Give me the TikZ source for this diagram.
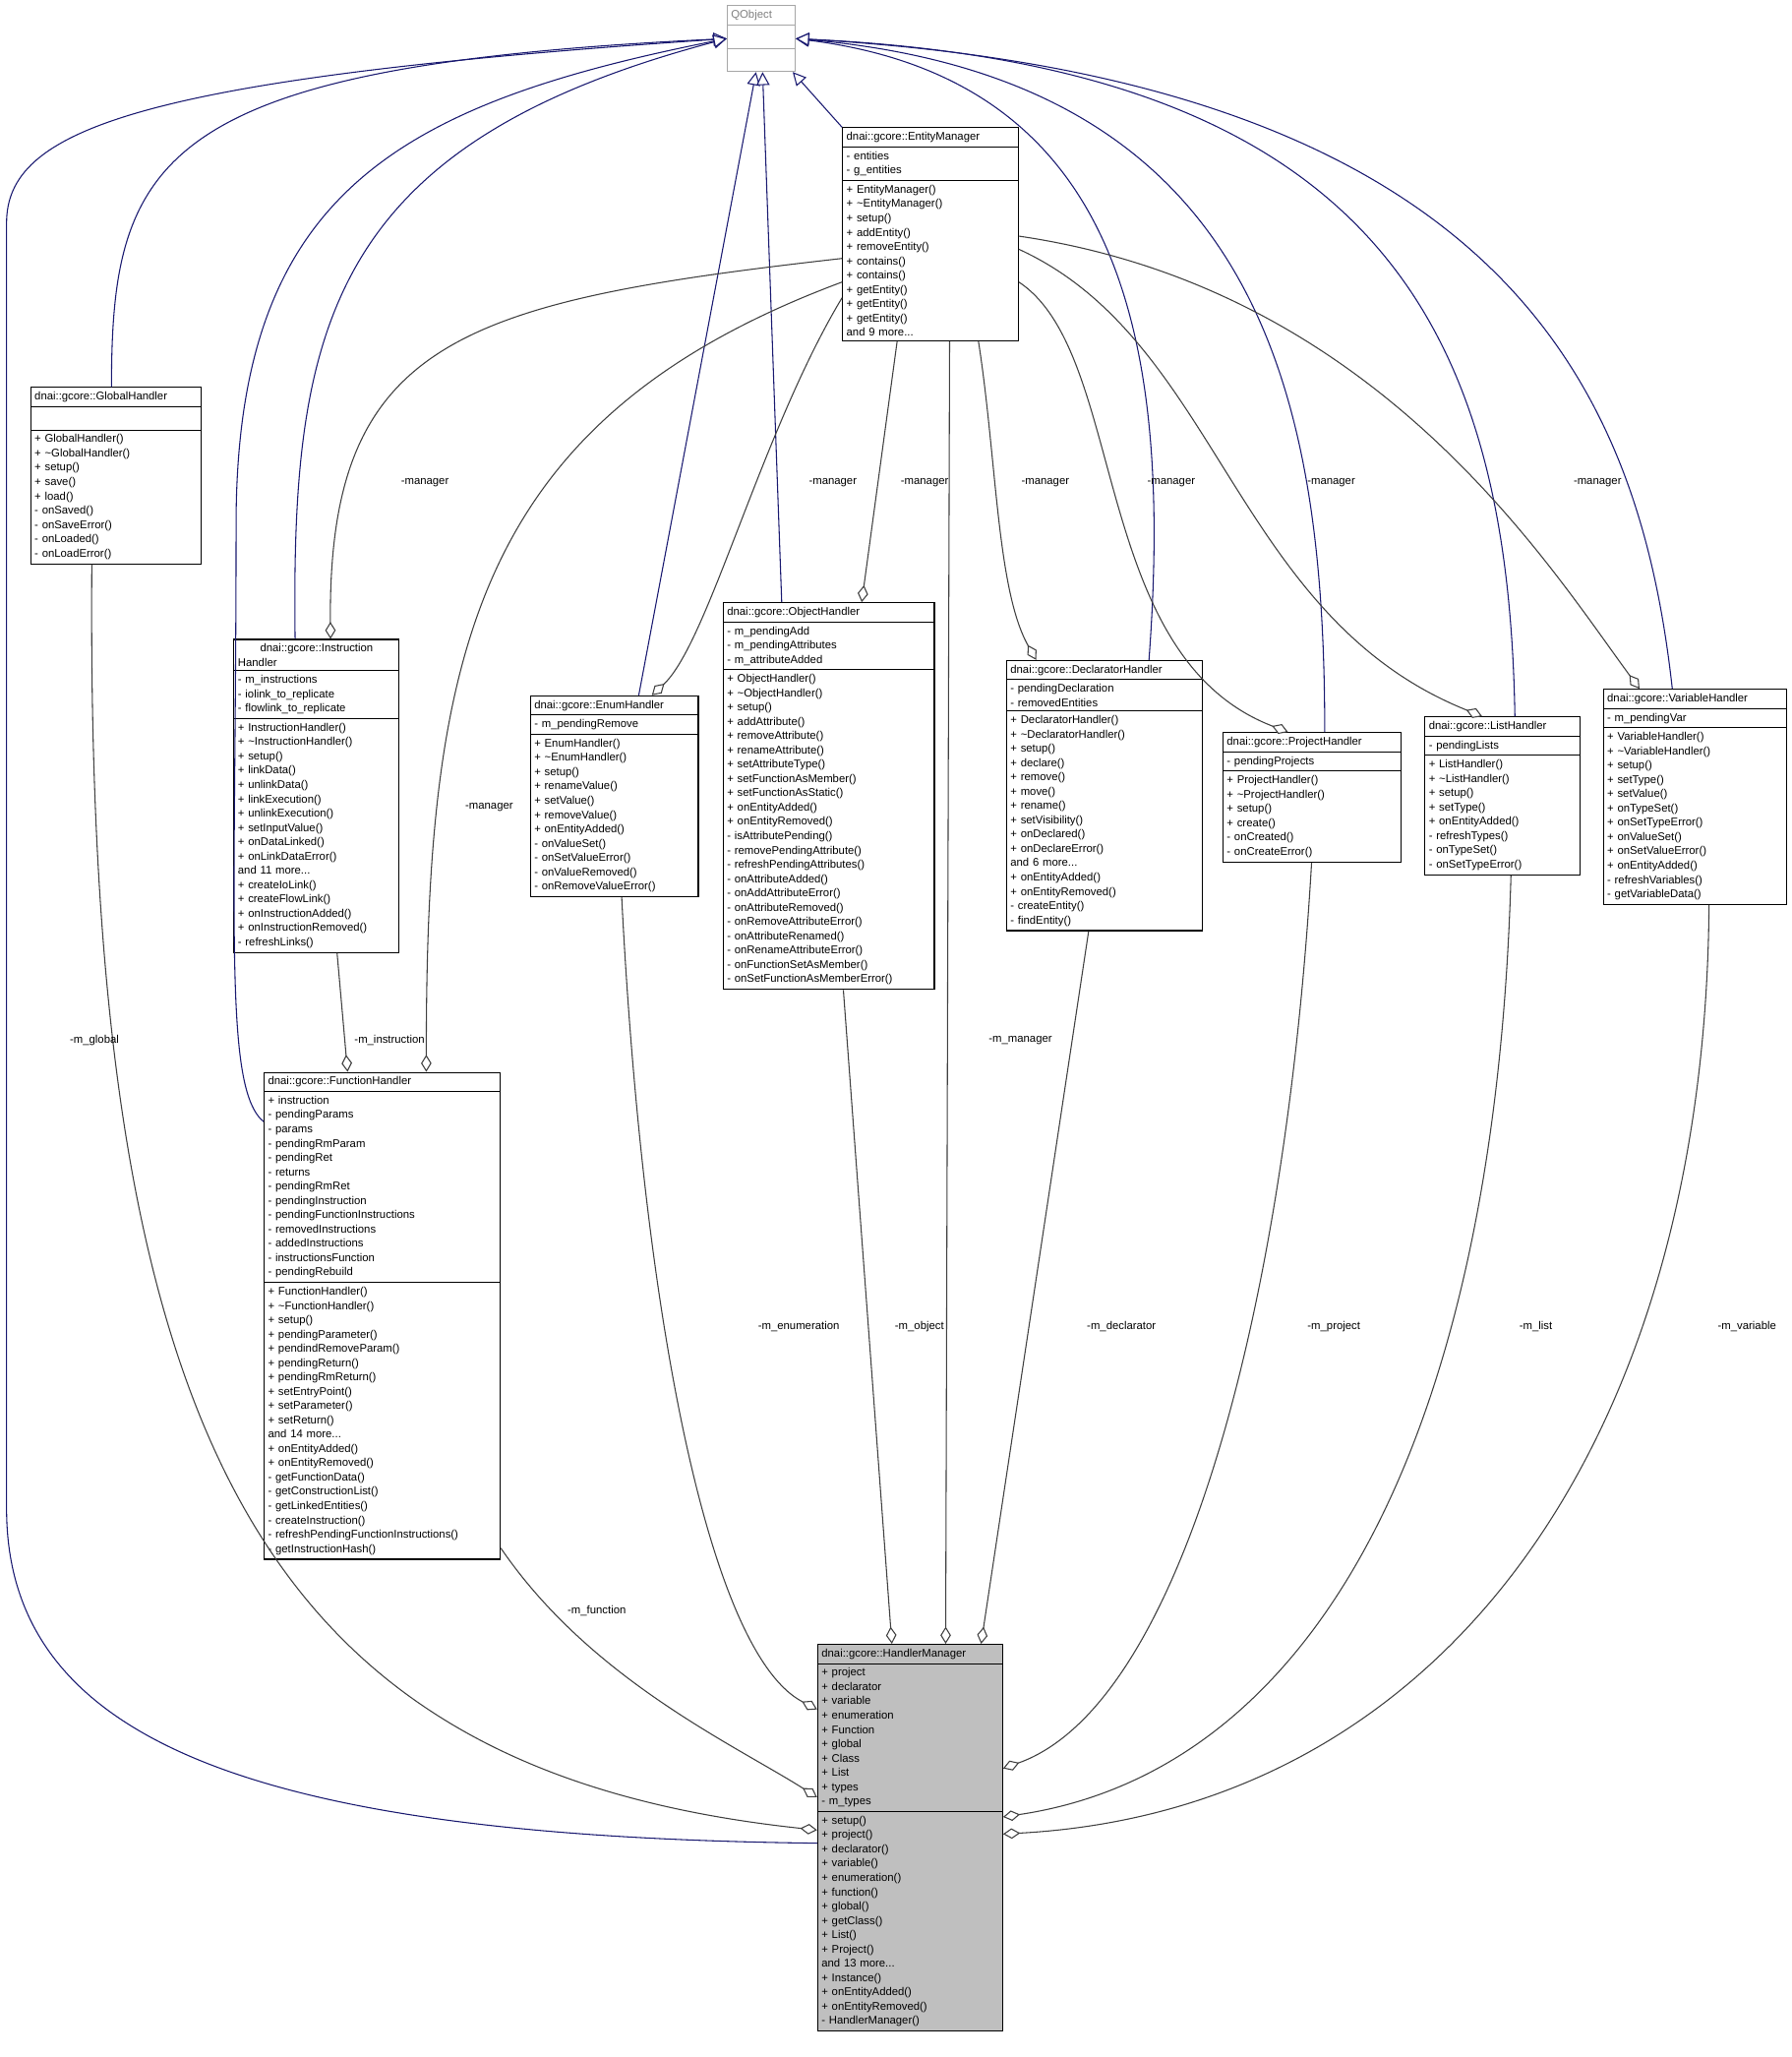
\documentclass[tikz,border=0pt]{standalone}
\usepackage{fontspec}
\setmainfont{Liberation Sans}
\usetikzlibrary{shapes.multipart,arrows.meta}
\definecolor{navy}{RGB}{25,25,112}
\definecolor{comp}{RGB}{64,64,64}
\begin{document}
\begin{tikzpicture}[x=1pt,y=-1pt,
 cls/.style={draw=black,fill=white,rectangle split,rectangle split parts=3,anchor=north west,
   inner xsep=3pt,inner ysep=3pt,font=\fontsize{8.5}{10.9}\selectfont,align=left,line width=0.8pt},
 inh/.style={navy,line width=0.8pt,-{Triangle[open,length=10pt,width=10pt,fill=white]}},
 cmp/.style={comp,line width=0.8pt,-{Diamond[open,length=13pt,width=8pt,fill=white]}},
 lbl/.style={font=\fontsize{8.5}{10.9}\selectfont,inner sep=1pt}]
\useasboundingbox[fill=white] (0,0) rectangle (1366,1568);

\node[cls,draw=gray!70,text width=46pt] (qo) at (554,4) {\centering\color{gray}QObject\nodepart{two}\strut\nodepart{three}\strut};

\node[cls,text width=128pt] (em) at (642,97) {\centering dnai::gcore::EntityManager
\nodepart{two}- entities\\- g\_entities
\nodepart{three}+ EntityManager()\\+ \textasciitilde EntityManager()\\+ setup()\\+ addEntity()\\+ removeEntity()\\+ contains()\\+ contains()\\+ getEntity()\\+ getEntity()\\+ getEntity()\\and 9 more...};

\node[cls,text width=124pt] (gh) at (23,295) {\centering dnai::gcore::GlobalHandler
\nodepart{two}\strut
\nodepart{three}+ GlobalHandler()\\+ \textasciitilde GlobalHandler()\\+ setup()\\+ save()\\+ load()\\- onSaved()\\- onSaveError()\\- onLoaded()\\- onLoadError()};

\node[cls,text width=120pt] (ih) at (178,487) {\centering dnai::gcore::Instruction\\Handler
\nodepart{two}- m\_instructions\\- iolink\_to\_replicate\\- flowlink\_to\_replicate
\nodepart{three}+ InstructionHandler()\\+ \textasciitilde InstructionHandler()\\+ setup()\\+ linkData()\\+ unlinkData()\\+ linkExecution()\\+ unlinkExecution()\\+ setInputValue()\\+ onDataLinked()\\+ onLinkDataError()\\and 11 more...\\+ createIoLink()\\+ createFlowLink()\\+ onInstructionAdded()\\+ onInstructionRemoved()\\- refreshLinks()};

\node[cls,text width=122pt] (en) at (404,530) {\centering dnai::gcore::EnumHandler
\nodepart{two}- m\_pendingRemove
\nodepart{three}+ EnumHandler()\\+ \textasciitilde EnumHandler()\\+ setup()\\+ renameValue()\\+ setValue()\\+ removeValue()\\+ onEntityAdded()\\- onValueSet()\\- onSetValueError()\\- onValueRemoved()\\- onRemoveValueError()};

\node[cls,text width=155pt] (oh) at (551,459) {\centering dnai::gcore::ObjectHandler
\nodepart{two}- m\_pendingAdd\\- m\_pendingAttributes\\- m\_attributeAdded
\nodepart{three}+ ObjectHandler()\\+ \textasciitilde ObjectHandler()\\+ setup()\\+ addAttribute()\\+ removeAttribute()\\+ renameAttribute()\\+ setAttributeType()\\+ setFunctionAsMember()\\+ setFunctionAsStatic()\\+ onEntityAdded()\\+ onEntityRemoved()\\- isAttributePending()\\- removePendingAttribute()\\- refreshPendingAttributes()\\- onAttributeAdded()\\- onAddAttributeError()\\- onAttributeRemoved()\\- onRemoveAttributeError()\\- onAttributeRenamed()\\- onRenameAttributeError()\\- onFunctionSetAsMember()\\- onSetFunctionAsMemberError()};

\node[cls,text width=143pt] (dh) at (767,503) {\centering dnai::gcore::DeclaratorHandler
\nodepart{two}- pendingDeclaration\\- removedEntities
\nodepart{three}+ DeclaratorHandler()\\+ \textasciitilde DeclaratorHandler()\\+ setup()\\+ declare()\\+ remove()\\+ move()\\+ rename()\\+ setVisibility()\\+ onDeclared()\\+ onDeclareError()\\and 6 more...\\+ onEntityAdded()\\+ onEntityRemoved()\\- createEntity()\\- findEntity()};

\node[cls,text width=130pt] (ph) at (932,558) {\centering dnai::gcore::ProjectHandler
\nodepart{two}- pendingProjects
\nodepart{three}+ ProjectHandler()\\+ \textasciitilde ProjectHandler()\\+ setup()\\+ create()\\- onCreated()\\- onCreateError()};

\node[cls,text width=112pt] (lh) at (1086,546) {\centering dnai::gcore::ListHandler
\nodepart{two}- pendingLists
\nodepart{three}+ ListHandler()\\+ \textasciitilde ListHandler()\\+ setup()\\+ setType()\\+ onEntityAdded()\\- refreshTypes()\\- onTypeSet()\\- onSetTypeError()};

\node[cls,text width=134pt] (vh) at (1222,525) {\centering dnai::gcore::VariableHandler
\nodepart{two}- m\_pendingVar
\nodepart{three}+ VariableHandler()\\+ \textasciitilde VariableHandler()\\+ setup()\\+ setType()\\+ setValue()\\+ onTypeSet()\\+ onSetTypeError()\\+ onValueSet()\\+ onSetValueError()\\+ onEntityAdded()\\- refreshVariables()\\- getVariableData()};

\node[cls,text width=174pt] (fh) at (201,817) {\centering dnai::gcore::FunctionHandler
\nodepart{two}+ instruction\\- pendingParams\\- params\\- pendingRmParam\\- pendingRet\\- returns\\- pendingRmRet\\- pendingInstruction\\- pendingFunctionInstructions\\- removedInstructions\\- addedInstructions\\- instructionsFunction\\- pendingRebuild
\nodepart{three}+ FunctionHandler()\\+ \textasciitilde FunctionHandler()\\+ setup()\\+ pendingParameter()\\+ pendindRemoveParam()\\+ pendingReturn()\\+ pendingRmReturn()\\+ setEntryPoint()\\+ setParameter()\\+ setReturn()\\and 14 more...\\+ onEntityAdded()\\+ onEntityRemoved()\\- getFunctionData()\\- getConstructionList()\\- getLinkedEntities()\\- createInstruction()\\- refreshPendingFunctionInstructions()\\- getInstructionHash()};

\node[cls,fill=gray!50,text width=135pt] (hm) at (623,1253) {\centering dnai::gcore::HandlerManager
\nodepart{two}+ project\\+ declarator\\+ variable\\+ enumeration\\+ Function\\+ global\\+ Class\\+ List\\+ types\\- m\_types
\nodepart{three}+ setup()\\+ project()\\+ declarator()\\+ variable()\\+ enumeration()\\+ function()\\+ global()\\+ getClass()\\+ List()\\+ Project()\\and 13 more...\\+ Instance()\\+ onEntityAdded()\\+ onEntityRemoved()\\- HandlerManager()};

% inheritance
\draw[inh] ([yshift=-152pt]hm.north west) .. controls (200,1400) and (5,1330) .. (5,1150) -- (5,170) .. controls (5,100) and (100,60) .. (qo.west);
\draw[inh] ([xshift=62pt]gh.north west) .. controls (85,120) and (120,50) .. (qo.west);
\draw[inh] ([xshift=47pt]ih.north west) .. controls (222,250) and (250,110) .. (qo.west);
\draw[inh] ([yshift=-38pt]fh.north west) .. controls (170,830) and (180,700) .. (180,400) .. controls (180,150) and (300,80) .. (qo.west);
\draw[inh] ([xshift=83pt]en.north west) -- ([xshift=-4pt]qo.south);
\draw[inh] ([xshift=45pt]oh.north west) -- ([xshift=1pt]qo.south);
\draw[inh] (em.north west) -- ([xshift=24pt]qo.south);
\draw[inh] ([xshift=109pt]dh.north west) .. controls (895,250) and (850,60) .. (qo.east);
\draw[inh] ([xshift=78pt]ph.north west) .. controls (1010,300) and (960,60) .. (qo.east);
\draw[inh] ([xshift=69pt]lh.north west) .. controls (1150,250) and (1050,50) .. (qo.east);
\draw[inh] ([xshift=53pt]vh.north west) .. controls (1250,300) and (1150,60) .. (qo.east);

% composition from EntityManager
\draw[cmp] ([yshift=-100pt]em.north west) .. controls (350,230) and (250,260) .. ([xshift=74pt]ih.north west);
\draw[cmp] ([yshift=-118pt]em.north west) .. controls (360,320) and (325,500) .. ([xshift=124pt]fh.north west);
\draw[cmp] ([yshift=-130pt]em.north west) .. controls (580,330) and (540,490) .. ([xshift=93pt]en.north west);
\draw[cmp] ([xshift=42pt]em.south west) -- ([xshift=106pt]oh.north west);
\draw[cmp] ([xshift=104pt]em.south west) .. controls (760,350) and (760,450) .. ([xshift=23pt]dh.north west);
\draw[cmp] ([yshift=-118pt]em.north east) .. controls (860,270) and (830,500) .. ([xshift=50pt]ph.north west);
\draw[cmp] ([yshift=-93pt]em.north east) .. controls (930,260) and (940,470) .. ([xshift=44pt]lh.north west);
\draw[cmp] ([yshift=-83pt]em.north east) .. controls (1050,220) and (1180,430) .. ([xshift=28pt]vh.north west);
\draw[cmp] ([xshift=82pt]em.south west) -- ([xshift=98pt]hm.north west);
\draw[cmp] ([xshift=79pt]ih.south west) -- ([xshift=64pt]fh.north west);

% composition into HandlerManager
\draw[cmp] ([xshift=47pt]gh.south west) .. controls (65,1100) and (200,1350) .. ([yshift=-142pt]hm.north west);
\draw[cmp] ([yshift=-363pt]fh.north east) .. controls (450,1280) and (560,1330) .. ([yshift=-117pt]hm.north west);
\draw[cmp] ([xshift=70pt]en.south west) .. controls (490,1000) and (540,1260) .. ([yshift=-50pt]hm.north west);
\draw[cmp] ([xshift=92pt]oh.south west) -- ([xshift=57pt]hm.north west);
\draw[cmp] ([xshift=63pt]dh.south west) -- ([xshift=125pt]hm.north west);
\draw[cmp] ([xshift=68pt]ph.south west) .. controls (980,1000) and (900,1300) .. ([yshift=-95pt]hm.north east);
\draw[cmp] ([xshift=66pt]lh.south west) .. controls (1140,1100) and (1000,1350) .. ([yshift=-132pt]hm.north east);
\draw[cmp] ([xshift=81pt]vh.south west) .. controls (1300,1100) and (1100,1380) .. ([yshift=-145pt]hm.north east);

% labels
\node[lbl] (l1) at (324,368) {-manager};
\node[lbl] (l2) at (373,615) {-manager};
\node[lbl] (l3) at (635,368) {-manager};
\node[lbl] (l4) at (705,368) {-manager};
\node[lbl] (l5) at (797,368) {-manager};
\node[lbl] (l6) at (893,368) {-manager};
\node[lbl] (l7) at (1015,368) {-manager};
\node[lbl] (l8) at (1218,368) {-manager};
\node[lbl] (l9) at (778,793) {-m\_manager};
\node[lbl] (l10) at (297,793) {-m\_instruction};
\node[lbl] (l11) at (72,793) {-m\_global};
\node[lbl] (l12) at (455,1228) {-m\_function};
\node[lbl] (l13) at (609,1011) {-m\_enumeration};
\node[lbl] (l14) at (701,1011) {-m\_object};
\node[lbl] (l15) at (855,1011) {-m\_declarator};
\node[lbl] (l16) at (1017,1011) {-m\_project};
\node[lbl] (l17) at (1171,1011) {-m\_list};
\node[lbl] (l18) at (1332,1011) {-m\_variable};
\end{tikzpicture}
\end{document}
